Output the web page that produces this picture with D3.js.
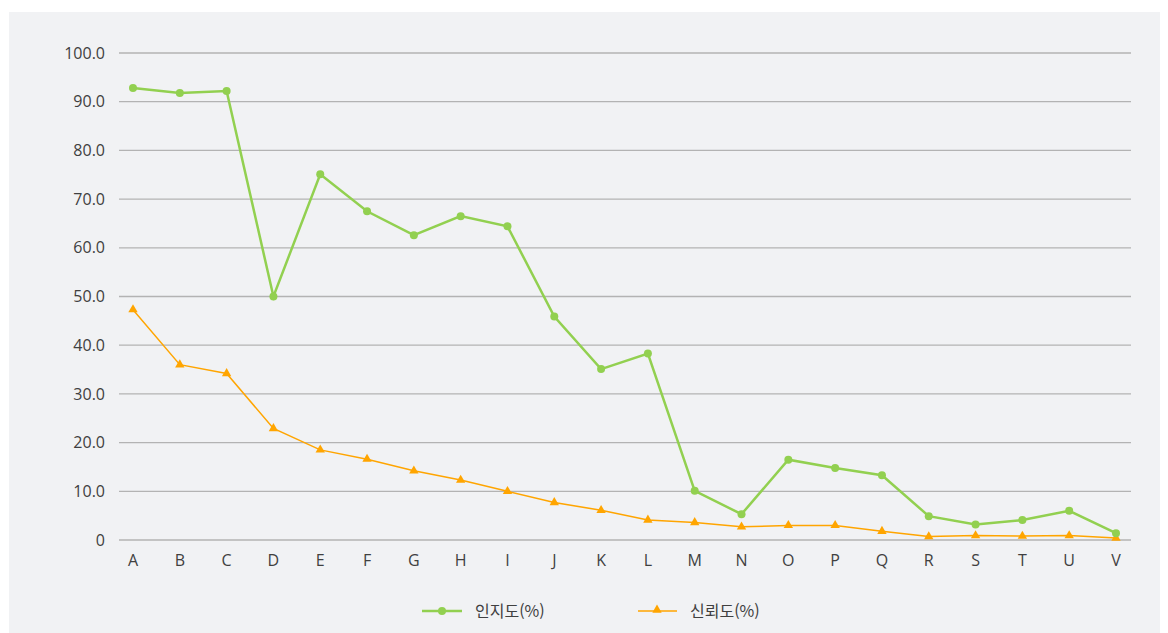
<!DOCTYPE html>
<html lang="ko">
<head>
<meta charset="UTF-8">
<script src="https://cdn.jsdelivr.net/npm/d3@7/dist/d3.min.js"></script>
<style>
  body { margin: 0; background: #fff; }
  text { font-family: "Open Sans", "Noto Sans CJK KR", sans-serif; fill: #404040; }
</style>
</head>
<body>
<div id="chart"></div>
<script>
  // 데이터
  const categories = ['A','B','C','D','E','F','G','H','I','J','K','L','M','N','O','P','Q','R','S','T','U','V']
  const awareness = [92.8, 91.8, 92.2, 50.0, 75.1, 67.5, 62.6, 66.5, 64.4, 45.9, 35.1, 38.3, 10.1, 5.3, 16.5, 14.8, 13.3, 4.9, 3.2, 4.1, 6.0, 1.4]
  const trust = [47.3, 36.0, 34.2, 22.9, 18.5, 16.6, 14.2, 12.3, 10.0, 7.7, 6.1, 4.1, 3.6, 2.7, 3.0, 3.0, 1.8, 0.7, 0.9, 0.8, 0.9, 0.4]
  const yTicks = [0, 10, 20, 30, 40, 50, 60, 70, 80, 90, 100]
  const seriesNames = ['인지도(%)', '신뢰도(%)']

  const width = 1168, height = 633
  const plot = { left: 119, right: 1131, top: 53, bottom: 540 }

  const svg = d3.select('#chart').append('svg').attr('width', width).attr('height', height)
  svg.append('rect').attr('x', 9).attr('y', 12).attr('width', 1151).attr('height', 621).attr('fill', '#f1f2f4')

  const x = d3.scalePoint().domain(categories).range([133, 1116])
  const y = d3.scaleLinear().domain([0, 100]).range([plot.bottom, plot.top])

  // 격자선
  svg.append('g').selectAll('line').data(yTicks).join('line')
    .attr('x1', plot.left).attr('x2', plot.right)
    .attr('y1', d => y(d)).attr('y2', d => y(d))
    .attr('stroke', '#b3b3b3').attr('stroke-width', 1.3)

  // y축 라벨
  svg.append('g').selectAll('text').data(yTicks).join('text')
    .attr('x', 105).attr('y', d => y(d)).attr('dy', '0.35em')
    .attr('text-anchor', 'end').attr('font-size', 16)
    .text(d => d === 0 ? '0' : d.toFixed(1))

  // x축 라벨
  svg.append('g').selectAll('text').data(categories).join('text')
    .attr('x', d => x(d)).attr('y', 566)
    .attr('text-anchor', 'middle').attr('font-size', 16)
    .text(d => d)

  const line = d3.line().x((d, i) => x(categories[i])).y(d => y(d))
  const tri = d3.symbol().type(d3.symbolTriangle).size(38)

  // 신뢰도
  svg.append('path').attr('d', line(trust)).attr('fill', 'none').attr('stroke', '#ffa500').attr('stroke-width', 1.5)
  svg.append('g').selectAll('path').data(trust).join('path')
    .attr('d', tri).attr('fill', '#ffa500')
    .attr('transform', (d, i) => `translate(${x(categories[i])},${y(d)})`)

  // 인지도
  svg.append('path').attr('d', line(awareness)).attr('fill', 'none').attr('stroke', '#92d050').attr('stroke-width', 2.5)
  svg.append('g').selectAll('circle').data(awareness).join('circle')
    .attr('cx', (d, i) => x(categories[i])).attr('cy', d => y(d)).attr('r', 4).attr('fill', '#92d050')

  // 범례
  const lg = svg.append('g')
  lg.append('line').attr('x1', 422).attr('x2', 462).attr('y1', 611).attr('y2', 611).attr('stroke', '#92d050').attr('stroke-width', 2.5)
  lg.append('circle').attr('cx', 442).attr('cy', 611).attr('r', 4).attr('fill', '#92d050')
  lg.append('text').attr('x', 475).attr('y', 611).attr('dy', '0.35em').attr('font-size', 16)
    .style('font-family', '"Noto Sans CJK KR", sans-serif').text(seriesNames[0])
  lg.append('line').attr('x1', 638).attr('x2', 677).attr('y1', 611).attr('y2', 611).attr('stroke', '#ffa500').attr('stroke-width', 1.5)
  lg.append('path').attr('d', tri).attr('fill', '#ffa500').attr('transform', 'translate(657,610)')
  lg.append('text').attr('x', 690).attr('y', 611).attr('dy', '0.35em').attr('font-size', 16)
    .style('font-family', '"Noto Sans CJK KR", sans-serif').text(seriesNames[1])
</script>
</body>
</html>
